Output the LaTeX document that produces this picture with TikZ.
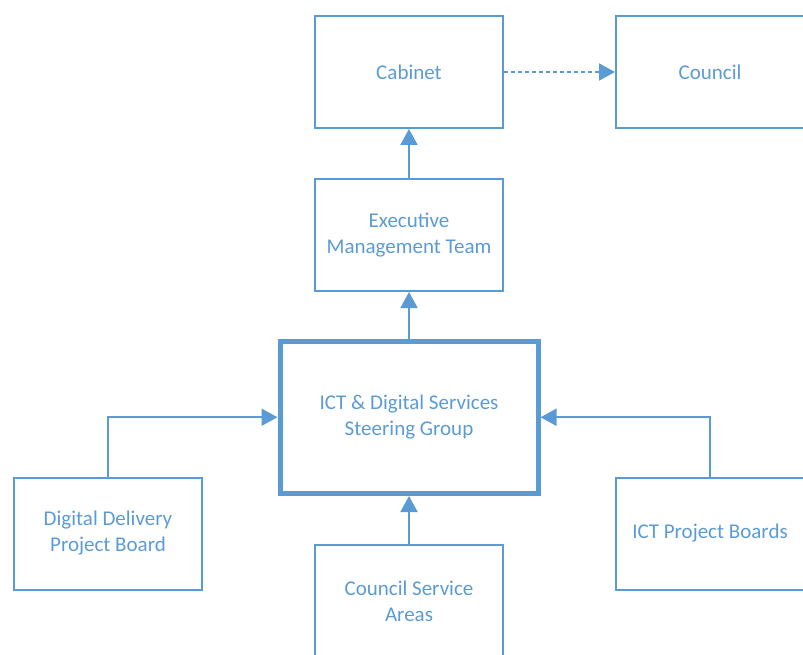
\documentclass[tikz,border=0pt]{standalone}
\usepackage{fontspec}
\setmainfont{Carlito}
\usepackage{xcolor}
\usetikzlibrary{positioning,arrows.meta}

\definecolor{govblue}{HTML}{5B9BD5}

\begin{document}
\begin{tikzpicture}[x=1pt, y=-1pt,
			box/.style={draw=govblue, line width=2pt, rectangle, minimum width=188pt, minimum height=112pt,
				align=center, text=govblue, font=\fontsize{21}{26}\selectfont},
			mainbox/.style={box, line width=5pt, minimum width=258pt, minimum height=152.5pt},
			arrow/.style={-{Triangle[length=16pt, width=17pt]}, draw=govblue, line width=2pt}]
			\useasboundingbox (0,0) rectangle (803,655);
			\node[box] (cabinet) at (409,72) {Cabinet};
			\node[box, right=111pt of cabinet] (council) {Council};
			\node[box, below=49pt of cabinet] (exec) {Executive\\Management Team};
			\node[mainbox, below=46.5pt of exec] (steer) {ICT \& Digital Services\\Steering Group};
			\node[box, below=48pt of steer] (areas) {Council Service\\Areas};
			\node[box, left=74.5pt of steer, yshift=-116.25pt] (delivery) {Digital Delivery\\Project Board};
			\node[box, right=74.5pt of steer, yshift=-116.25pt] (boards) {ICT Project Boards};
			
			\draw[arrow, dash pattern=on 4pt off 3pt] (cabinet) -- (council);
			\draw[arrow] (exec) -- (cabinet);
			\draw[arrow] (steer) -- (exec);
			\draw[arrow] (areas) -- (steer);
			\draw[arrow] (delivery.north) |- (steer.west);
			\draw[arrow] (boards.north) |- (steer.east);
		\end{tikzpicture}
\end{document}
